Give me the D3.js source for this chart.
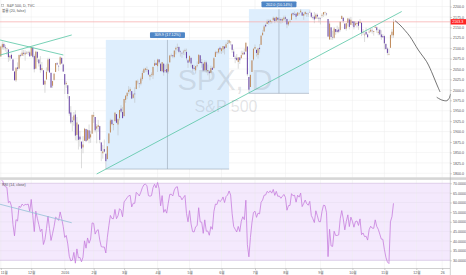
<!DOCTYPE html>
<html lang="ko">
<head>
<meta charset="utf-8">
<title>SPX, D</title>
<script src="https://cdn.jsdelivr.net/npm/d3@7"></script>
<style>
body { margin:0; background:#fff; }
svg { display:block; font-family:"Liberation Sans","Noto Sans CJK KR",sans-serif; }
</style>
</head>
<body>
<svg id="chart" width="466" height="275"></svg>
<script>
// daily bars, 2015-11-02 .. 2016-11-09
var opens = [
2080,2102,2110,2102,2098,2097,2078,2084,2073,2044, 2023,2054,2051,2083,2082,2089,2085,2089,2089,2090,
2082,2101,2081,2051,2091,2073,2061,2048,2047,2013, 2025,2046,2074,2041,2010,2024,2043,2064,2058,2061,
2077,2061,2038,2014,2011,1985,1946,1926,1927,1941, 1892,1917,1888,1876,1862,1878,1906,1879,1903,1886,
1895,1936,1935,1907,1911,1913,1874,1848,1858,1847, 1834,1872,1898,1928,1916,1925,1942,1917,1932,1955,
1947,1937,1976,1985,1995,1997,1997,1981,1991,2002, 2019,2016,2015,2026,2041,2048,2048,2048,2032,2037,
2035,2058,2064,2057,2073,2063,2045,2063,2045,2050, 2044,2066,2082,2083,2079,2097,2101,2103,2092,2089,
2090,2093,2091,2071,2068,2077,2060,2053,2047,2057, 2062,2083,2067,2063,2047,2066,2045,2044,2041,2053,
2052,2079,2091,2090,2101,2093,2097,2104,2101,2111, 2113,2115,2109,2092,2077,2077,2067,2078,2076,2085,
2090,2092,2104,2031,2007,2043,2073,2099,2096,2084, 2101,2108,2131,2140,2156,2158,2165,2163,2163,2167,
2172,2166,2173,2169,2170,2166,2169,2174,2170,2157, 2163,2168,2184,2182,2183,2178,2183,2186,2186,2178,
2182,2184,2182,2187,2185,2174,2176,2171,2180,2173, 2171,2178,2181,2185,2183,2170,2121,2150,2127,2125,
2146,2143,2145,2144,2170,2173,2159,2147,2161,2169, 2156,2164,2164,2155,2158,2164,2160,2161,2138,2131,
2139,2133,2138,2140,2142,2139,2149,2150,2137,2144, 2133,2129,2129,2110,2099,2084,2101,2131,2131];
var highs = [
2106,2116,2114,2108,2101,2097,2084,2087,2075,2045, 2054,2066,2085,2087,2097,2096,2095,2093,2094,2094,
2104,2104,2085,2094,2093,2073,2081,2067,2047,2023, 2054,2077,2077,2041,2022,2040,2064,2067,2058,2081,
2077,2063,2038,2021,2012,1985,1961,1935,1947,1951, 1935,1917,1902,1876,1889,1909,1907,1906,1917,1902,
1940,1947,1935,1918,1928,1914,1874,1868,1881,1847, 1865,1896,1931,1930,1919,1946,1942,1932,1952,1963,
1959,1978,1986,1993,2009,2006,1997,1992,2006,2022, 2025,2016,2032,2046,2053,2053,2056,2049,2037,2042,
2056,2072,2067,2075,2074,2063,2067,2063,2060,2063, 2065,2084,2087,2084,2095,2104,2111,2104,2095,2089,
2096,2099,2099,2074,2083,2077,2060,2060,2058,2068, 2085,2083,2074,2066,2071,2070,2061,2045,2058,2056,
2079,2094,2093,2099,2104,2100,2105,2104,2114,2120, 2120,2117,2109,2098,2082,2086,2079,2078,2094,2094,
2099,2113,2104,2031,2036,2071,2099,2109,2097,2100, 2110,2132,2144,2156,2159,2169,2169,2169,2164,2176,
2175,2176,2174,2174,2174,2173,2178,2178,2171,2164, 2169,2183,2186,2188,2183,2186,2186,2194,2186,2183,
2188,2185,2185,2193,2186,2179,2187,2184,2183,2174, 2174,2184,2186,2188,2185,2170,2164,2150,2142,2151,
2146,2154,2150,2165,2179,2174,2159,2161,2173,2173, 2175,2164,2165,2164,2162,2165,2170,2162,2146,2138,
2149,2135,2145,2148,2148,2142,2155,2152,2146,2147, 2143,2134,2131,2112,2102,2099,2133,2146,2170];
var lows = [
2080,2097,2096,2092,2084,2067,2070,2075,2046,2023, 2019,2046,2051,2078,2082,2081,2070,2086,2084,2080,
2082,2077,2042,2051,2067,2056,2041,2045,2012,1993, 2025,2042,2041,2005,2005,2022,2043,2059,2045,2061,
2062,2044,1990,2005,1979,1938,1918,1901,1914,1879, 1878,1857,1864,1812,1848,1878,1876,1879,1872,1873,
1895,1921,1898,1872,1900,1872,1829,1835,1850,1810, 1834,1872,1898,1915,1903,1925,1920,1891,1927,1945,
1932,1937,1969,1978,1990,1988,1978,1979,1969,2002, 2013,2005,2011,2022,2041,2044,2043,2035,2023,2031,
2026,2058,2059,2043,2062,2044,2043,2034,2041,2040, 2039,2066,2079,2076,2076,2085,2094,2088,2080,2077,
2084,2083,2071,2053,2065,2054,2045,2046,2039,2054, 2062,2064,2053,2045,2047,2041,2035,2025,2041,2048,
2052,2079,2085,2087,2087,2086,2089,2085,2101,2110, 2110,2107,2089,2079,2064,2070,2051,2062,2076,2083,
2084,2092,2033,1992,2007,2043,2070,2097,2080,2075, 2089,2108,2131,2140,2150,2158,2156,2159,2159,2167,
2160,2163,2162,2161,2159,2161,2165,2163,2148,2153, 2160,2168,2177,2179,2169,2178,2179,2186,2178,2168,
2180,2175,2175,2186,2172,2169,2160,2171,2170,2162, 2157,2173,2175,2178,2178,2128,2120,2120,2120,2123,
2132,2136,2136,2140,2170,2160,2145,2142,2152,2145, 2156,2154,2145,2155,2150,2144,2160,2129,2132,2115,
2132,2124,2136,2138,2135,2130,2149,2137,2131,2131, 2120,2125,2097,2097,2083,2083,2101,2124,2125];
var closes = [
2104.05,2109.79,2102.31,2099.93,2099.20,2078.58,2081.72,2075.00,2045.97,2023.04,
2053.19,2050.44,2083.58,2081.24,2089.17,2086.59,2089.14,2088.87,2090.11,2080.41,
2102.63,2079.51,2049.62,2091.69,2077.07,2063.59,2047.62,2052.23,2012.37,2021.94,
2043.41,2073.07,2041.89,2005.55,2021.15,2038.97,2064.29,2060.99,2056.50,2078.36,
2063.36,2043.94,2012.66,2016.71,1990.26,1943.09,1922.03,1923.67,1938.68,1890.28,
1921.84,1880.33,1881.33,1859.33,1868.99,1906.90,1877.08,1903.63,1882.95,1893.36,
1940.24,1939.38,1903.03,1912.53,1915.45,1880.05,1853.44,1852.21,1851.86,1829.08,
1864.78,1895.58,1926.82,1917.83,1917.78,1945.50,1921.27,1929.80,1951.70,1948.05,
1932.23,1978.35,1986.45,1993.40,1999.99,2001.76,1979.26,1989.26,1989.57,2022.19,
2019.64,2015.93,2027.22,2040.59,2049.58,2051.60,2049.80,2036.71,2035.94,2037.05,
2055.01,2063.95,2059.74,2072.78,2066.13,2045.17,2066.66,2041.91,2047.60,2041.99,
2061.72,2082.42,2082.78,2080.73,2094.34,2100.80,2102.40,2091.48,2091.58,2087.79,
2091.70,2095.15,2075.81,2065.30,2081.43,2063.37,2051.12,2050.63,2057.14,2058.69,
2084.39,2064.46,2064.11,2046.61,2066.66,2047.21,2047.63,2040.04,2052.32,2048.04,
2076.06,2090.54,2090.10,2099.06,2096.95,2099.33,2105.26,2099.13,2109.41,2112.13,
2119.12,2115.48,2096.07,2079.06,2075.32,2071.50,2077.99,2071.22,2083.25,2088.90,
2085.45,2113.32,2037.41,2000.54,2036.09,2070.77,2098.86,2102.95,2088.55,2099.73,
2097.90,2129.90,2137.16,2152.14,2152.43,2163.75,2161.74,2166.89,2163.78,2173.02,
2165.17,2175.03,2168.48,2169.18,2166.58,2170.06,2173.60,2170.84,2157.03,2163.79,
2164.25,2182.87,2180.89,2181.74,2175.49,2185.79,2184.05,2190.15,2178.15,2182.22,
2187.02,2183.87,2182.64,2186.90,2175.44,2172.47,2169.04,2180.38,2176.12,2170.95,
2170.86,2179.98,2186.48,2186.16,2181.30,2127.81,2159.04,2127.02,2125.77,2147.26,
2139.16,2139.12,2139.76,2163.12,2177.18,2164.69,2146.10,2159.93,2171.37,2151.13,
2168.27,2161.20,2150.49,2159.73,2160.77,2153.74,2163.66,2136.73,2139.18,2132.55,
2132.98,2126.50,2139.60,2144.29,2141.34,2141.16,2151.33,2143.16,2139.43,2133.04,
2126.41,2126.15,2111.72,2097.94,2088.66,2085.18,2131.52,2139.56,2163.26];
var rsi = [
71.1,72.0,69.1,68.2,67.9,59.9,60.6,58.1,48.6,42.7, 51.1,50.4,58.1,57.5,59.2,58.4,59.0,58.9,59.2,55.4,
61.6,53.3,44.9,55.5,51.8,48.5,44.9,46.2,38.2,40.8, 46.4,53.0,46.5,40.3,43.8,47.5,52.4,51.7,50.7,55.1,
51.7,47.6,41.9,42.9,38.5,32.1,29.7,30.1,34.1,28.5, 35.9,31.3,31.5,29.2,31.6,40.1,36.3,41.6,38.9,41.0,
49.4,49.2,43.6,45.4,45.9,40.6,37.1,36.9,36.9,33.8, 42.0,48.0,53.3,51.7,51.6,56.4,51.6,53.1,56.8,56.0,
52.6,60.3,61.4,62.5,63.5,63.7,57.7,59.6,59.6,65.3, 64.5,63.4,65.4,67.7,69.2,69.5,68.8,63.6,63.3,63.6,
67.7,69.5,67.6,70.4,67.2,58.3,63.6,54.9,56.4,54.5, 59.6,64.2,64.3,63.4,66.5,67.9,68.2,63.2,63.2,61.4,
62.6,63.7,54.3,50.0,55.8,48.9,44.9,44.7,47.4,48.0, 57.3,49.9,49.8,44.0,51.0,45.1,45.2,43.0,47.5,46.1,
55.3,59.2,59.0,61.4,60.5,61.2,62.9,60.0,63.1,63.9, 66.0,63.9,54.2,47.5,46.1,44.7,47.6,44.9,50.3,52.6,
51.1,61.2,38.1,31.8,41.8,49.5,54.8,55.5,52.3,54.5, 54.1,60.1,61.3,63.8,63.9,65.8,65.1,66.1,64.9,66.8,
63.7,65.8,63.2,63.4,62.2,63.2,64.2,62.7,56.0,58.4, 58.5,64.6,63.5,63.8,60.2,63.8,62.8,64.9,57.9,59.5,
61.3,59.4,58.6,60.6,53.3,51.6,49.6,55.7,53.1,50.1, 50.0,55.3,58.6,58.4,54.8,31.9,46.1,37.5,37.2,45.1,
42.9,42.9,43.2,51.6,55.8,51.5,45.8,50.2,53.6,47.5, 52.4,50.3,47.2,50.1,50.4,48.1,51.5,43.3,44.2,42.3,
42.5,40.5,45.9,47.7,46.7,46.6,51.0,47.6,46.1,43.6, 41.0,40.9,35.7,31.6,29.1,28.3,50.0,52.7,59.6];

// time axis: bar index of first bar of each month
var tickIdx = [0,20,42,61,81,103,124,145,167,187,210,231,252,273,290];
var tickLab = ["11월","12월","2016","2월","3월","4월","5월","6월","7월","8월","9월","10월","11월","12월","26"];
var priceTicks = [1800,1825,1850,1875,1900,1925,1950,1975,2000,2025,2050,2075,2100,2125,2150,2175,2200];
var rsiTicks = [30,35,40,45,50,55,60,65,70];
var lastPrice = 2163.26;

// drawings (bar index, value)
var boxFrom = [69, 163];
var boxTo = [150, 202.5];
var boxLow = [1810.1, 1991.7];
var boxHigh = [2120.0, 2193.7];
var boxText = ["309.9 (17.12%)", "202.0 (10.14%)"];
var trendLines = [
  [[63.0,1798.3],[263.4,2188.0]],
  [[-0.5,2083.5],[46.6,2131.7]],
  [[-0.5,2119.7],[41.1,2083.7]]];
var rsiTrend = [[-0.5,59.1],[46.6,49.5]];
var brushMain = [[259.0,2166.0],[262.3,2155.6],[265.6,2142.4],[268.9,2127.6],[274.3,2095.7],
  [279.8,2067.6],[282.0,2051.8],[283.9,2035.7],[286.6,2011.8],[288.6,1995.0]];
var brushHook = [[286.4,1982.3],[289.7,1975.8],[293.0,1974.1],[294.5,1979.4],[295.5,1990.2]];

var svg = d3.select("#chart");
var W = 450;
var x = d3.scaleLinear().domain([0, 290]).range([0.8, 442.2]);
var yP = d3.scaleLinear().domain([1791.1, 2215.6]).range([177, 0]);
var yR = d3.scaleLinear().domain([26, 71.7]).range([268, 180]);

var defs = svg.append("defs");
defs.append("clipPath").attr("id","cp").append("rect").attr("x",0).attr("y",0).attr("width",W).attr("height",177);
defs.append("clipPath").attr("id","cr").append("rect").attr("x",0).attr("y",180.5).attr("width",W).attr("height",87.5);

svg.append("rect").attr("width",466).attr("height",275).attr("fill","#fff");

// rsi band
svg.append("rect").attr("x",0).attr("width",W)
  .attr("y",yR(70)).attr("height",yR(30)-yR(70)).attr("fill","#f4e9fd");

// grid
var grid = svg.append("g").attr("stroke","#ececec").attr("stroke-width",0.5);
grid.selectAll(".vp").data(tickIdx).join("line")
  .attr("x1",d=>x(d)).attr("x2",d=>x(d)).attr("y1",0).attr("y2",268);
grid.selectAll(".hp").data(priceTicks).join("line")
  .attr("x1",0).attr("x2",W).attr("y1",d=>yP(d)).attr("y2",d=>yP(d));
grid.selectAll(".hr").data(rsiTicks.slice(1,-1)).join("line")
  .attr("x1",0).attr("x2",W).attr("y1",d=>yR(d)).attr("y2",d=>yR(d)).attr("stroke","#e6dcef");
svg.selectAll(".band").data([70,30]).join("line")
  .attr("x1",0).attr("x2",W).attr("y1",d=>yR(d)).attr("y2",d=>yR(d))
  .attr("stroke","#cbb6dc").attr("stroke-width",0.6);

// price range boxes
var pane = svg.append("g").attr("clip-path","url(#cp)");
boxFrom.forEach(function(b, k) {
  var x0 = x(b), x1 = x(boxTo[k]), yt = yP(boxHigh[k]), yb = yP(boxLow[k]), xm = (x0+x1)/2;
  pane.append("rect").attr("x",x0).attr("y",yt).attr("width",x1-x0).attr("height",yb-yt)
    .attr("fill","#deeefd");
  pane.append("line").attr("x1",xm).attr("x2",xm).attr("y1",yt).attr("y2",yb)
    .attr("stroke","#98a6b6").attr("stroke-width",0.6);
  pane.append("line").attr("x1",x0).attr("x2",x1).attr("y1",yb).attr("y2",yb)
    .attr("stroke","#98a6b6").attr("stroke-width",0.6);
});

// watermark
svg.append("text").attr("x",225).attr("y",90).attr("text-anchor","middle")
  .attr("font-size",29).attr("fill","rgba(120,123,134,0.2)").text("SPX, D");
svg.append("text").attr("x",226).attr("y",112).attr("text-anchor","middle")
  .attr("font-size",16).attr("fill","rgba(120,123,134,0.2)").text("S&P 500");

// last price line
pane.append("line").attr("x1",0).attr("x2",W).attr("y1",yP(lastPrice)).attr("y2",yP(lastPrice))
  .attr("stroke","#f7b2b2").attr("stroke-width",0.8);

// candles
var idx = d3.range(closes.length);
pane.selectAll(".wick").data(idx).join("line")
  .attr("x1",i=>x(i)).attr("x2",i=>x(i))
  .attr("y1",i=>yP(highs[i])).attr("y2",i=>yP(lows[i]))
  .attr("stroke","#b9b9b9").attr("stroke-width",0.5);
pane.selectAll(".body").data(idx).join("rect")
  .attr("x",i=>x(i)-0.5).attr("width",1)
  .attr("y",i=>yP(Math.max(opens[i],closes[i])))
  .attr("height",i=>Math.max(0.5, Math.abs(yP(opens[i])-yP(closes[i]))))
  .attr("fill",i=>closes[i]>=opens[i] ? "#c08a5a" : "#6a44a8");

// trend lines
var lineP = d3.line().x(d=>x(d[0])).y(d=>yP(d[1]));
pane.selectAll(".trend").data(trendLines).join("path")
  .attr("d",lineP).attr("fill","none").attr("stroke","#56c5a3").attr("stroke-width",0.8);

// hand drawing
var brush = d3.line().x(d=>x(d[0])).y(d=>yP(d[1])).curve(d3.curveCatmullRom);
svg.selectAll(".brush").data([brushMain, brushHook]).join("path")
  .attr("d",brush).attr("fill","none").attr("stroke","#3a3a3a").attr("stroke-width",0.7);

// range labels
boxFrom.forEach(function(b, k) {
  var xm = (x(b)+x(boxTo[k]))/2, yt = yP(boxHigh[k]);
  svg.append("rect").attr("x",xm-17.5).attr("y",yt-7.6).attr("width",35).attr("height",5.8)
    .attr("rx",0.8).attr("fill","#4f86c6");
  svg.append("text").attr("x",xm).attr("y",yt-3.4).attr("text-anchor","middle")
    .attr("font-size",3.8).attr("fill","#fff").text(boxText[k]);
});

// rsi
var rp = svg.append("g").attr("clip-path","url(#cr)");
rp.append("path").datum(rsi)
  .attr("d", d3.line().x((d,i)=>x(i)).y(d=>yR(d)))
  .attr("fill","none").attr("stroke","#c77ddd").attr("stroke-width",0.8);
rp.append("path").datum(rsiTrend)
  .attr("d", d3.line().x(d=>x(d[0])).y(d=>yR(d[1])))
  .attr("fill","none").attr("stroke","#93c0d6").attr("stroke-width",0.8);

// pane separator and frame
svg.append("rect").attr("x",0).attr("y",177.3).attr("width",466).attr("height",2.6).attr("fill","#d6d6d6");
svg.append("line").attr("x1",W+0.3).attr("x2",W+0.3).attr("y1",0).attr("y2",275)
  .attr("stroke","#b0b0b0").attr("stroke-width",0.6);
svg.append("line").attr("x1",0).attr("x2",W).attr("y1",268.5).attr("y2",268.5)
  .attr("stroke","#b0b0b0").attr("stroke-width",0.6);

// axes
function styleAxis(g) {
  g.select(".domain").remove();
  g.selectAll(".tick line").attr("stroke","#999").attr("stroke-width",0.5);
  g.selectAll(".tick text").attr("font-size",3.6).attr("fill","#555")
    .attr("font-family","Liberation Sans, Noto Sans CJK KR, sans-serif");
}
svg.append("g").attr("transform","translate(" + (W+0.3) + ",0)")
  .call(d3.axisRight(yP).tickValues(priceTicks).tickFormat(d3.format(".1f")).tickSize(1.5).tickPadding(1.2))
  .call(styleAxis);
svg.append("g").attr("transform","translate(" + (W+0.3) + ",0)")
  .call(d3.axisRight(yR).tickValues(rsiTicks).tickFormat(d3.format(".4f")).tickSize(1.5).tickPadding(1.2))
  .call(styleAxis);
var xAxisG = svg.append("g").attr("transform","translate(0,268.5)")
  .call(d3.axisBottom(x).tickValues(tickIdx).tickFormat((d,i)=>tickLab[i]).tickSize(1.5).tickPadding(1))
  .call(styleAxis);
// first label sits at the left edge: keep it inside the picture
xAxisG.selectAll(".tick text").filter((d,i)=>i===0).attr("text-anchor","start").attr("x",-0.6);

// last price tag
svg.append("rect").attr("x",W+0.6).attr("y",yP(lastPrice)-2.7).attr("width",15.4).attr("height",5.4)
  .attr("fill","#ff2323");
svg.append("text").attr("x",W+2.2).attr("y",yP(lastPrice)+1.3)
  .attr("font-size",3.6).attr("fill","#fff").text(d3.format(".1f")(lastPrice));

// legends
svg.append("rect").attr("x",1.4).attr("y",4.3).attr("width",2.4).attr("height",2.4)
  .attr("fill","none").attr("stroke","#999").attr("stroke-width",0.4);
svg.append("text").attr("x",6.8).attr("y",7.1).attr("font-size",3.6).attr("fill","#555").text("S&P 500, D, TVC");
svg.append("text").attr("x",2).attr("y",12.4).attr("font-size",3.6).attr("fill","#555").text("볼륨 (20, false)");
svg.append("text").attr("x",2).attr("y",186.2).attr("font-size",3.6).attr("fill","#555").text("RSI (14, close)");
</script>
</body>
</html>
